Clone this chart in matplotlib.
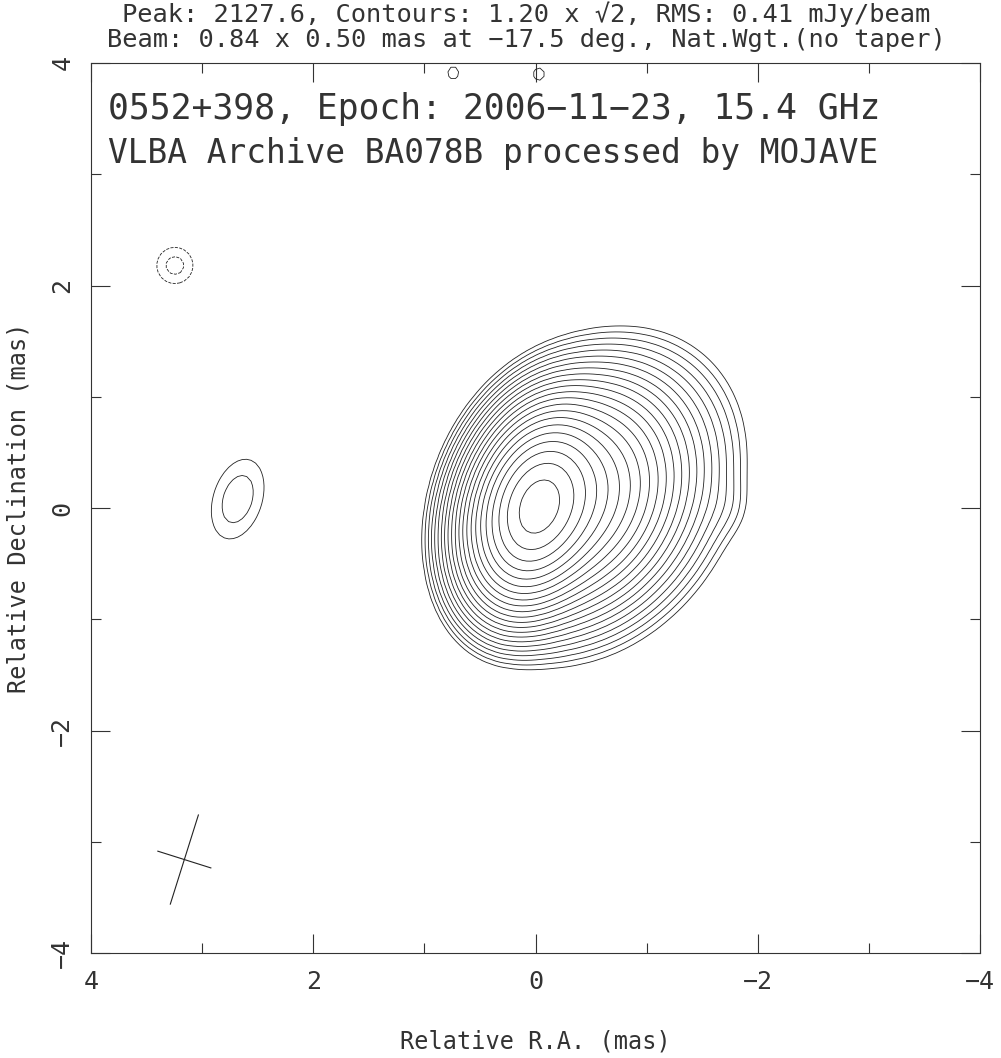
import numpy as np
import matplotlib
matplotlib.use("Agg")
import matplotlib.pyplot as plt

# --- map header values ---
peak = 2127.6
base_level = 1.20
rms = 0.41
beam_maj, beam_min, beam_pa = 0.84, 0.50, -17.5
beam_x, beam_y = 3.16, -3.16

# --- clean-map components (peak mJy/beam, RA/Dec offset in mas, FWHM in mas, PA in deg) ---
comp_flux = [1800.0, 480.0, 50.0, 0.6, 2.05, -1.9, 1.5, 1.5]
comp_x = [0.0, -0.33, -0.56, -1.72, 2.68, 3.245, 0.74, -0.03]
comp_y = [0.0, 0.09, 0.12, 0.00, 0.08, 2.18, 3.91, 3.90]
comp_maj = [0.86, 1.00, 1.35, 0.40, 0.84, 0.40, 0.20, 0.20]
comp_min = [0.56, 0.80, 1.05, 0.35, 0.50, 0.40, 0.18, 0.18]
comp_pa = [-17.5, -30.0, -34.0, 0.0, -17.5, 0.0, 0.0, 0.0]

title_lines = ["Peak: 2127.6, Contours: 1.20 x \u221a2, RMS: 0.41 mJy/beam",
               "Beam: 0.84 x 0.50 mas at \u221217.5 deg., Nat.Wgt.(no taper)"]
inner_lines = ["0552+398, Epoch: 2006\u221211\u221223, 15.4 GHz",
               "VLBA Archive BA078B processed by MOJAVE"]

plt.rcParams['font.family'] = ['DejaVu Sans Mono', 'DejaVu Sans']
ink = '#333333'

# --- build the map on a grid ---
x = np.arange(-4.0, 4.0001, 0.04)
y = np.arange(-4.0, 4.0001, 0.04)
X, Y = np.meshgrid(x, y)
Z = np.zeros_like(X)
for A, x0, y0, bmaj, bmin, pa in zip(comp_flux, comp_x, comp_y, comp_maj, comp_min, comp_pa):
    t = np.radians(pa)
    u = (X - x0) * np.sin(t) + (Y - y0) * np.cos(t)
    v = (X - x0) * np.cos(t) - (Y - y0) * np.sin(t)
    Z += A * np.exp(-4 * np.log(2) * ((u / bmaj) ** 2 + (v / bmin) ** 2))

# contour levels: 1.2 x sqrt(2)^n up to the peak
pos_levels = []
lev = base_level
while lev < peak:
    pos_levels.append(lev)
    lev *= np.sqrt(2)
neg_levels = [-base_level * np.sqrt(2), -base_level]

fig = plt.figure(figsize=(10.01, 10.58), dpi=100)
ax = fig.add_axes([91 / 1001, 1 - 953 / 1058, 889 / 1001, 890 / 1058])

ax.contour(X, Y, Z, levels=pos_levels, colors='#222222', linewidths=0.6)
ax.contour(X, Y, Z, levels=neg_levels, colors='#222222', linewidths=0.6,
           linestyles='dashed')

# beam cross
t = np.radians(beam_pa)
ax.plot([beam_x - 0.5 * beam_maj * np.sin(t), beam_x + 0.5 * beam_maj * np.sin(t)],
        [beam_y - 0.5 * beam_maj * np.cos(t), beam_y + 0.5 * beam_maj * np.cos(t)],
        color='#222222', lw=0.8)
ax.plot([beam_x - 0.5 * beam_min * np.cos(t), beam_x + 0.5 * beam_min * np.cos(t)],
        [beam_y + 0.5 * beam_min * np.sin(t), beam_y - 0.5 * beam_min * np.sin(t)],
        color='#222222', lw=0.8)

ax.set_xlim(4, -4)
ax.set_ylim(-4, 4)
ax.set_xticks([4, 2, 0, -2, -4])
ax.set_yticks([4, 2, 0, -2, -4])
ax.set_xticks([3, 1, -1, -3], minor=True)
ax.set_yticks([3, 1, -1, -3], minor=True)
ax.tick_params(which='both', direction='in', top=True, right=True, width=0.8,
               color=ink, labelcolor=ink)
ax.tick_params(which='major', length=14)
ax.tick_params(which='minor', length=7)
ax.tick_params(axis='x', labelsize=18, pad=12)
ax.tick_params(axis='y', labelsize=18, pad=12)
for lab in ax.get_yticklabels():
    lab.set_rotation(90)
    lab.set_va('center')
for sp in ax.spines.values():
    sp.set_linewidth(0.8)
    sp.set_color(ink)

ax.set_xlabel('Relative R.A. (mas)', fontsize=17, labelpad=26, color=ink)
ax.set_ylabel('Relative Declination (mas)', fontsize=17, labelpad=14, color=ink)

fig.text(526 / 1001, 1 - 22 / 1058, title_lines[0], ha='center', va='baseline',
         fontsize=18.3, color=ink)
fig.text(526 / 1001, 1 - 47 / 1058, title_lines[1], ha='center', va='baseline',
         fontsize=18.3, color=ink)
ax.text(3.85, 3.5, inner_lines[0], ha='left', va='baseline', fontsize=25, color=ink)
ax.text(3.85, 3.1, inner_lines[1], ha='left', va='baseline', fontsize=23.6, color=ink)

fig.savefig('out.png', dpi=100)
